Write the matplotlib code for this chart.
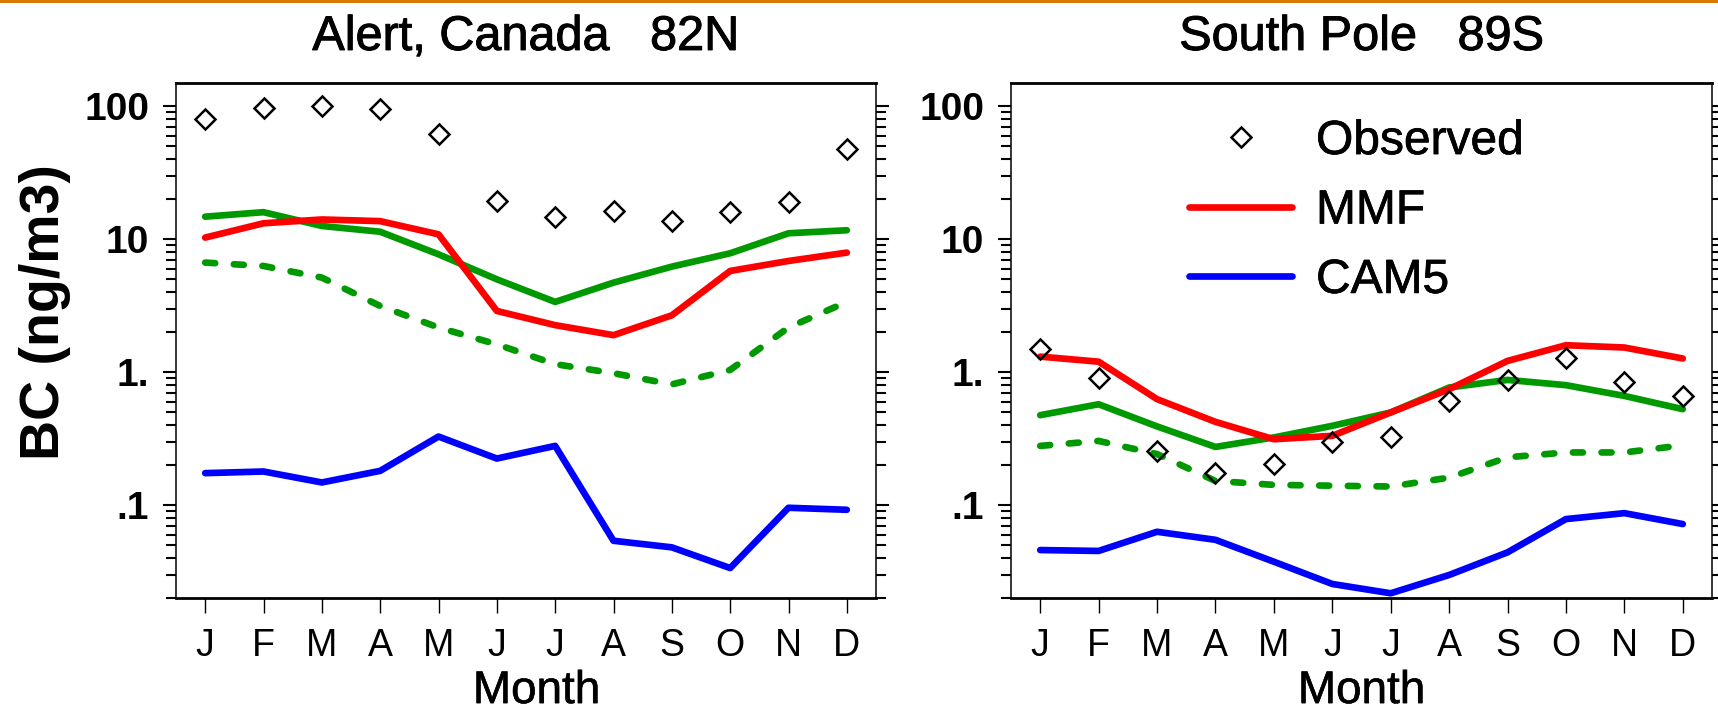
import matplotlib
matplotlib.use('Agg')
import matplotlib.pyplot as plt
import matplotlib.patheffects as pe
from matplotlib.lines import Line2D
from matplotlib.patches import Rectangle
from matplotlib.ticker import FixedLocator, FixedFormatter, LogLocator, NullFormatter
import numpy as np

plt.rcParams['font.family'] = ['Liberation Sans', 'DejaVu Sans']

### monthly BC surface concentrations (ng/m3) ###
months = ['J', 'F', 'M', 'A', 'M', 'J', 'J', 'A', 'S', 'O', 'N', 'D']

# Alert, Canada 82N
alert_obs = [79.8, 98.0, 101.0, 96.0, 61.6, 19.4, 14.6, 16.3, 13.7, 16.1, 19.2, 47.5]
alert_mmf = [10.3, 13.2, 14.1, 13.7, 10.9, 2.89, 2.26, 1.90, 2.68, 5.78, 6.87, 7.94]
alert_cam5 = [0.174, 0.179, 0.148, 0.181, 0.328, 0.224, 0.279, 0.0539, 0.0481, 0.0336, 0.0955, 0.0922]
alert_green = [14.8, 16.0, 12.6, 11.4, 7.71, 5.0, 3.38, 4.72, 6.23, 7.85, 11.1, 11.7]
alert_green_dash = [6.68, 6.3, 5.15, 3.15, 2.17, 1.62, 1.15, 0.983, 0.81, 1.04, 2.17, 3.38]

# South Pole 89S
spole_obs = [1.49, 0.912, 0.256, 0.174, 0.203, 0.299, 0.328, 0.608, 0.875, 1.29, 0.845, 0.663]
spole_mmf = [1.31, 1.20, 0.627, 0.423, 0.313, 0.332, 0.498, 0.745, 1.216, 1.596, 1.534, 1.268]
spole_cam5 = [0.0459, 0.0452, 0.063, 0.0548, 0.0375, 0.0255, 0.0217, 0.0298, 0.0441, 0.0785, 0.087, 0.072]
spole_green = [0.475, 0.574, 0.391, 0.274, 0.323, 0.395, 0.498, 0.767, 0.875, 0.799, 0.663, 0.527]
spole_green_dash = [0.279, 0.304, 0.242, 0.152, 0.142, 0.140, 0.138, 0.161, 0.229, 0.249, 0.249, 0.282]

x = np.arange(1, 13)

RED = '#ff0000'
BLUE = '#0000ff'
GREEN = '#009900'
LW = 4.8


def heavy(w):
    # thickens regular-weight text a little
    return [pe.withStroke(linewidth=w, foreground='black')]


fig = plt.figure(figsize=(17.18, 7.11), dpi=100)

# thin orange strip along the top edge
fig.patches.append(Rectangle((0, 1 - 3.0 / 711), 1, 3.0 / 711, transform=fig.transFigure,
                             facecolor='#d97b00', edgecolor='none'))

ax1 = fig.add_axes([176 / 1718, 1 - 598 / 711, 700 / 1718, 515 / 711])
ax2 = fig.add_axes([1011 / 1718, 1 - 598 / 711, 701 / 1718, 515 / 711])


def draw_panel(ax, obs, mmf, cam5, green, green_dash, title):
    ax.plot(x, green_dash, color=GREEN, lw=LW, ls=(0, (1.5, 2.8)), dash_capstyle='round')
    ax.plot(x, green, color=GREEN, lw=LW, solid_capstyle='round', solid_joinstyle='round')
    ax.plot(x, mmf, color=RED, lw=LW, solid_capstyle='round', solid_joinstyle='round')
    ax.plot(x, cam5, color=BLUE, lw=LW, solid_capstyle='round', solid_joinstyle='round')
    ax.plot(x, obs, ls='none', marker='D', ms=10, mfc='none', mec='black', mew=1.8)

    ax.set_yscale('log')
    ax.set_ylim(0.02, 150)
    ax.set_xlim(0.5, 12.5)

    ax.xaxis.set_major_locator(FixedLocator(x))
    ax.xaxis.set_major_formatter(FixedFormatter(months))
    ax.yaxis.set_major_locator(FixedLocator([0.1, 1, 10, 100]))
    ax.yaxis.set_major_formatter(FixedFormatter(['.1', '1.', '10', '100']))
    ax.yaxis.set_minor_locator(LogLocator(base=10, subs=np.arange(2, 10)))
    ax.yaxis.set_minor_formatter(NullFormatter())

    ax.tick_params(axis='x', which='major', direction='out', length=10.8, width=1.0,
                   pad=10.5, labelsize=27, top=False)
    ax.tick_params(axis='y', which='major', direction='out', length=9.4, width=1.5,
                   pad=10, labelsize=28, left=True, right=True, labelright=False)
    ax.tick_params(axis='y', which='minor', direction='out', length=7.2, width=1.5,
                   left=True, right=True)
    for lab in ax.get_yticklabels():
        lab.set_fontweight('bold')

    ax.spines['top'].set_linewidth(2.0)
    ax.spines['bottom'].set_linewidth(2.0)
    ax.spines['left'].set_linewidth(1.1)
    ax.spines['right'].set_linewidth(1.1)

    t = ax.set_title(title, fontsize=35, pad=23.8)
    t.set_path_effects(heavy(0.7))
    ax.set_xlabel('Month', fontsize=33)
    ax.xaxis.label.set_path_effects(heavy(0.4))


draw_panel(ax1, alert_obs, alert_mmf, alert_cam5, alert_green, alert_green_dash,
           'Alert, Canada   82N')
draw_panel(ax2, spole_obs, spole_mmf, spole_cam5, spole_green, spole_green_dash,
           'South Pole   89S')

ax1.xaxis.set_label_coords(0.515, -0.138)
ax2.xaxis.set_label_coords(0.5, -0.138)

fig.text(45 / 1718, 1 - 312 / 711, 'BC (ng/m3)', rotation=90, ha='center', va='center',
         fontsize=40, fontweight='bold')

### legend for observed / MMF / CAM5 ###
handles = [
    Line2D([], [], ls='none', marker='D', ms=10, mfc='none', mec='black', mew=1.8),
    Line2D([], [], color=RED, lw=LW, solid_capstyle='round'),
    Line2D([], [], color=BLUE, lw=LW, solid_capstyle='round'),
]
leg = ax2.legend(handles, ['Observed', 'MMF', 'CAM5'], loc='upper left',
                 bbox_to_anchor=(0.254, 0.93), frameon=False, fontsize=34.5,
                 handlelength=2.15, handletextpad=0.5, labelspacing=0.51,
                 borderpad=0, borderaxespad=0)
for txt in leg.get_texts():
    txt.set_path_effects(heavy(0.5))

fig.savefig('out.png', dpi=100)
